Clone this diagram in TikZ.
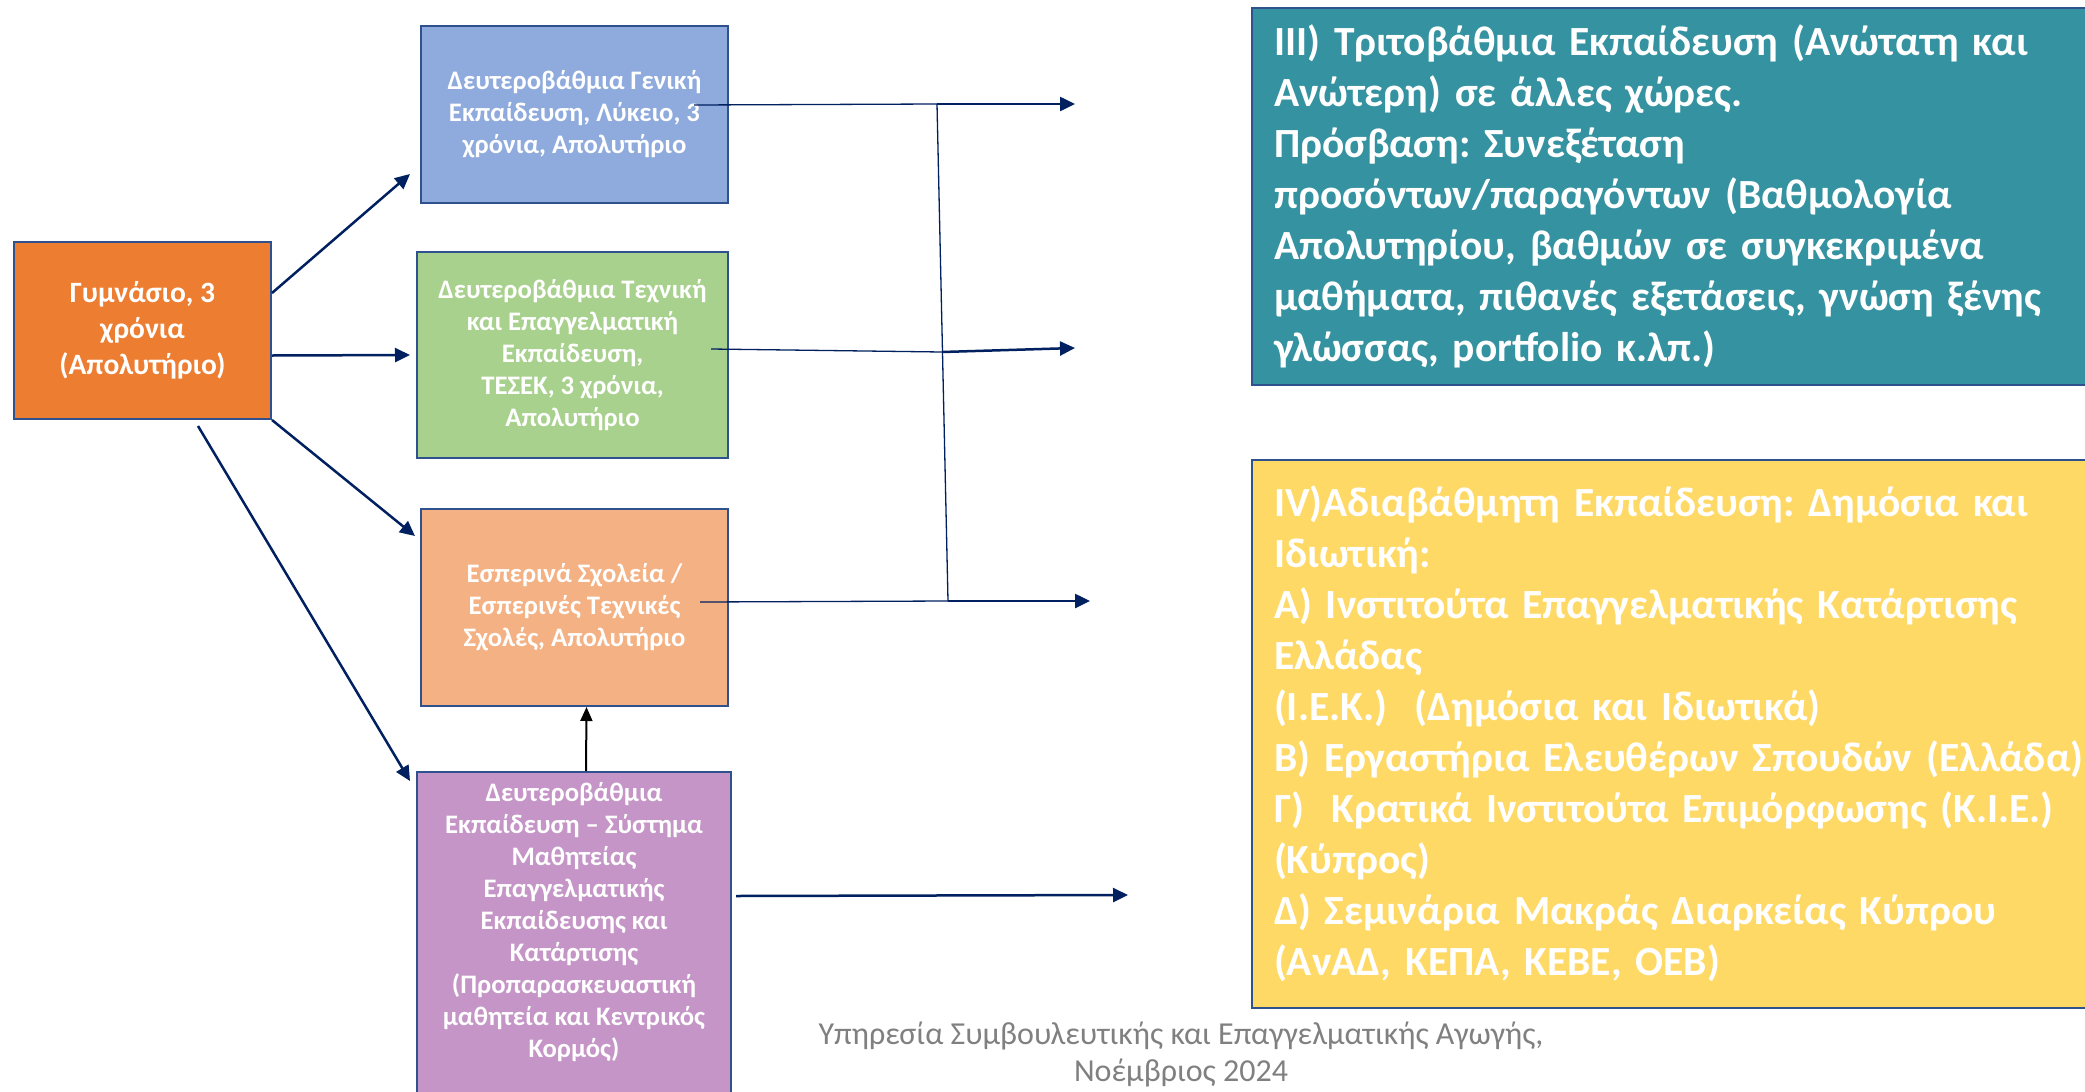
\documentclass[tikz,border=0pt]{standalone}
\usepackage{fontspec}
\setmainfont{Carlito}
\usepackage{xcolor}
\usepackage{tikz}
\usetikzlibrary{arrows.meta, positioning}

\definecolor{navy}{HTML}{002060}
\definecolor{edge}{HTML}{2F528F}
\definecolor{gymfill}{HTML}{ED7D31}
\definecolor{genfill}{HTML}{8FAADC}
\definecolor{techfill}{HTML}{A9D18E}
\definecolor{evenfill}{HTML}{F4B183}
\definecolor{apprfill}{HTML}{C495C6}
\definecolor{tertfill}{HTML}{3592A0}
\definecolor{nonffill}{HTML}{FFD966}
\definecolor{footgray}{HTML}{808080}

\tikzstyle{school} = [rectangle, draw=edge, line width=2pt, text=white, font=\bfseries\fontsize{26.7}{32}\selectfont, align=center, anchor=north west, inner sep=0pt]
\tikzstyle{level} = [rectangle, draw=edge, line width=2pt, text=white, font=\bfseries\fontsize{41.5}{51}\selectfont, align=left, anchor=north west, inner xsep=22pt, inner ysep=0pt, text width=960pt]
\tikzstyle{arrow} = [navy, line width=2.5pt, -{Triangle[length=15pt,width=14pt]}]
\tikzstyle{link} = [navy, line width=1.3pt]

\frenchspacing
\begin{document}
\begin{tikzpicture}[x=1pt, y=-1pt]
    \useasboundingbox (0,0) rectangle (2085,1092);

    % Node Position Definitions
    \node [school, fill=gymfill, minimum width=257pt, minimum height=177pt, font=\bfseries\fontsize{29.5}{36}\selectfont] (gym) at (13,241) {Γυμνάσιο, 3\\χρόνια\\(Απολυτήριο)};
    \node [school, fill=genfill, minimum width=307pt, minimum height=177pt] (gen) at (420,25) {Δευτεροβάθμια Γενική\\Εκπαίδευση, Λύκειο, 3\\χρόνια, Απολυτήριο};
    \node [school, fill=techfill, minimum width=311pt, minimum height=206pt] (tech) at (416,251) {Δευτεροβάθμια Τεχνική\\και Επαγγελματική\\Εκπαίδευση,\\ΤΕΣΕΚ, 3 χρόνια,\\Απολυτήριο};
    \node [school, fill=evenfill, minimum width=307pt, minimum height=197pt] (even) at (420,508) {Εσπερινά Σχολεία /\\Εσπερινές Τεχνικές\\Σχολές, Απολυτήριο};
    \node [school, fill=apprfill, inner sep=10pt] (appr) at (416,771) {\parbox[c][320pt][t]{294pt}{\centering Δευτεροβάθμια\\Εκπαίδευση – Σύστημα\\Μαθητείας\\Επαγγελματικής\\Εκπαίδευσης και\\Κατάρτισης\\(Προπαρασκευαστική\\μαθητεία και Κεντρικός\\Κορμός)}};

    \node [level, fill=tertfill, minimum height=377pt] (tert) at (1251,7) {III) Τριτοβάθμια Εκπαίδευση (Ανώτατη και\\Ανώτερη) σε άλλες χώρες.\\Πρόσβαση: Συνεξέταση\\προσόντων/παραγόντων (Βαθμολογία\\Απολυτηρίου, βαθμών σε συγκεκριμένα\\μαθήματα, πιθανές εξετάσεις, γνώση ξένης\\γλώσσας, portfolio κ.λπ.)};
    \node [level, fill=nonffill, minimum height=548pt] (nonf) at (1251,459) {IV)Αδιαβάθμητη Εκπαίδευση: Δημόσια και\\Ιδιωτική:\\Α) Ινστιτούτα Επαγγελματικής Κατάρτισης\\Ελλάδας\\(Ι.Ε.Κ.)\ \ (Δημόσια και Ιδιωτικά)\\Β) Εργαστήρια Ελευθέρων Σπουδών (Ελλάδα)\\Γ)\ \ Κρατικά Ινστιτούτα Επιμόρφωσης (Κ.Ι.Ε.)\\(Κύπρος)\\Δ) Σεμινάρια Μακράς Διαρκείας Κύπρου\\(ΑνΑΔ, ΚΕΠΑ, ΚΕΒΕ, ΟΕΒ)};

    \node [align=center, text=footgray, font=\fontsize{32}{37}\selectfont] (foot) at (1181,1054) {Υπηρεσία Συμβουλευτικής και Επαγγελματικής Αγωγής,\\Νοέμβριος 2024};

    % Bus and free arrow ends
    \coordinate (bustop) at (937,104);
    \coordinate (busmid) at (942,352);
    \coordinate (busbot) at (948,601);
    \coordinate (genout) at (1075,104);
    \coordinate (techout) at (1075,348);
    \coordinate (evenout) at (1090,601);
    \coordinate (approut) at (1128,895);

    % Connection Arrows
    \draw [arrow] ([yshift=-52pt]gym.north east) -- ([xshift=-10pt,yshift=30pt]gen.south west);
    \draw [arrow] ([yshift=-25pt]gym.east) -- ([xshift=-6pt]tech.west);
    \draw [arrow] (gym.south east) -- ([xshift=-5pt,yshift=-28pt]even.north west);
    \draw [arrow] ([xshift=-74pt,yshift=-6pt]gym.south east) -- ([xshift=-6pt,yshift=-10pt]appr.north west);
    \draw [black, line width=2pt, -{Triangle[length=14pt,width=12pt]}] ([xshift=12pt]appr.north) -- ([xshift=12pt]even.south);

    % Lines into the bus
    \draw [link] ([xshift=-35pt,yshift=9.5pt]gen.east) -- (bustop);
    \draw [link] ([xshift=-18pt,yshift=6pt]tech.east) -- (busmid);
    \draw [link] ([xshift=-29pt,yshift=5.5pt]even.east) -- (busbot);
    \draw [link] (bustop) -- (busbot);

    % Out to the upper levels
    \draw [arrow] (bustop) -- (genout);
    \draw [arrow] (busmid) -- (techout);
    \draw [arrow] (busbot) -- (evenout);
    \draw [arrow] ([xshift=4pt,yshift=46pt]appr.east) -- (approut);
\end{tikzpicture}
\end{document}
